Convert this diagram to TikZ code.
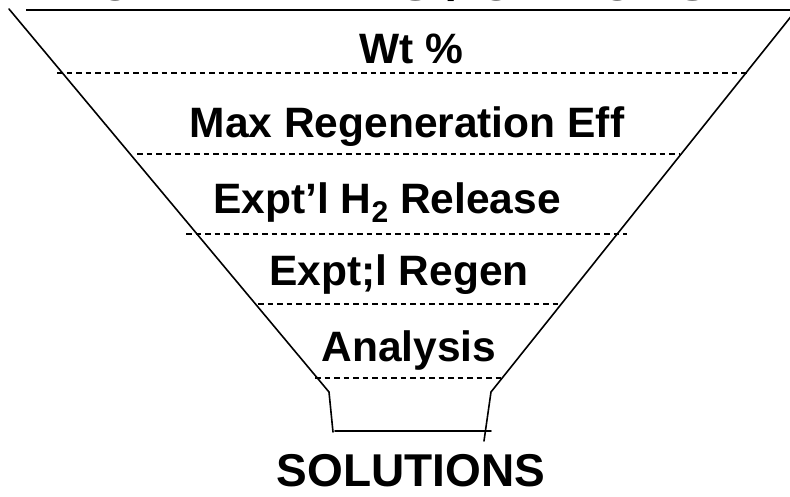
\documentclass[tikz,border=0pt]{standalone}
\usepackage{fontspec}
\setmainfont{Liberation Sans}
\usetikzlibrary{positioning}
\tikzset{
  funnel/.style={draw=black,line width=1.6pt,line cap=round},
  rim/.style={draw=black,line width=2.2pt},
  band/.style={draw=black,line width=1.3pt,dash pattern=on 5.5pt off 4pt},
  lbl/.style={font=\fontsize{42.5}{50}\selectfont\bfseries,anchor=base,inner sep=0pt},
  big/.style={font=\fontsize{46}{54}\selectfont\bfseries,anchor=base,inner sep=0pt},
}
\begin{document}
\begin{tikzpicture}[x=1pt,y=-1pt]
  \useasboundingbox (0,0) rectangle (790,496);
  \clip (0,0) rectangle (790,496);
  % funnel outline
  \coordinate (tl) at (9,9);
  \coordinate (tr) at (797,9);
  \coordinate (nl) at (329,392);
  \coordinate (nr) at (491,392);
  \coordinate (ol) at (333,432);
  \coordinate (or) at (484,441);
  \draw[funnel] (tl) -- (nl) -- (ol);
  \draw[funnel] (tr) -- (nr) -- (or);
  \coordinate (sl) at (335,431);
  \coordinate (sr) at (491,431);
  \draw[funnel] (sl) -- (sr);
  \coordinate (rl) at (26,10);
  \coordinate (rr) at (792,10);
  \draw[rim] (rl) -- (rr);
  % bands
  \coordinate (a1) at (57,73);   \coordinate (a2) at (748,73);
  \coordinate (b1) at (137,154); \coordinate (b2) at (680,154);
  \coordinate (c1) at (186,234); \coordinate (c2) at (627,234);
  \coordinate (d1) at (258,304); \coordinate (d2) at (560,304);
  \coordinate (e1) at (315,378); \coordinate (e2) at (503,378);
  \foreach \s in {a,b,c,d,e}
    \draw[band] (\s1) -- (\s2);
  % labels
  \node[big,font=\fontsize{52}{60}\selectfont\bfseries] (top) at (403,0.5) {CANDIDATES / OPTIONS};
  \node[lbl] (wt) at (411,63) {Wt \%};
  \node[lbl] (regeff) at (407,137) {Max Regeneration Eff};
  \node[lbl] (release) at (387,213) {Expt’l H\raisebox{-0.22em}{\fontsize{30}{30}\selectfont 2} Release};
  \node[lbl] (regen) at (399,285) {Expt;l Regen};
  \node[lbl] (analysis) at (409,361) {Analysis};
  \node[big] (sol) at (411,486) {SOLUTIONS};
\end{tikzpicture}
\end{document}
